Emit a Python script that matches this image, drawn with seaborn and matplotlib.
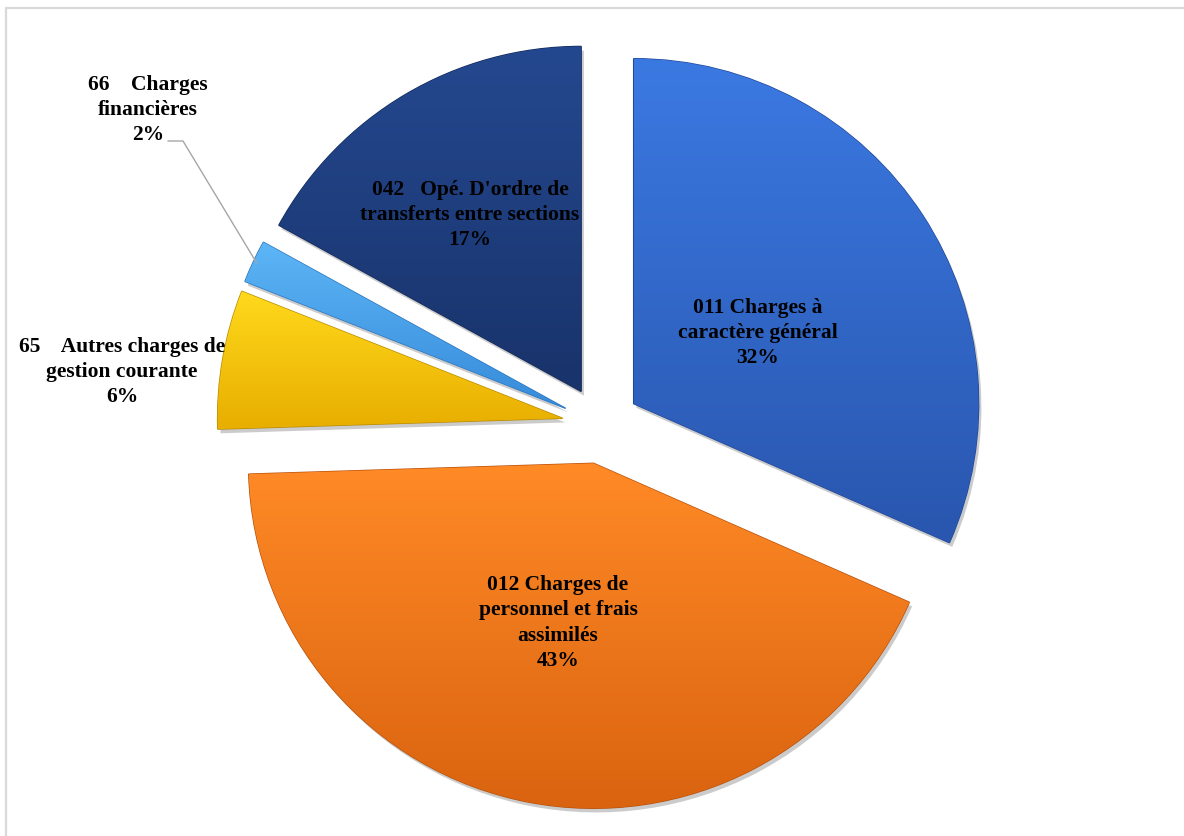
import numpy as np
import matplotlib
matplotlib.use("Agg")
import matplotlib.pyplot as plt
import matplotlib.patheffects as pe
from matplotlib.colors import to_rgb
from matplotlib.lines import Line2D
import seaborn as sns

# Data (share of charges)
codes = ["011", "012", "65", "66", "042"]
names = ["011 Charges à\ncaractère général",
         "012 Charges de\npersonnel et frais\nassimilés",
         "65    Autres charges de\ngestion courante",
         "66    Charges\nfinancières",
         "042   Opé. D'ordre de\ntransferts entre sections"]
shares = [31.6, 42.9, 6.5, 2.0, 17.0]
pct_labels = ["32%", "43%", "6%", "2%", "17%"]

# style
top_colors = ["#3B79E2", "#FF8A26", "#FFD91C", "#5DB6F6", "#24488F"]
bottom_colors = ["#2956AE", "#D9620F", "#E8AE00", "#378BDA", "#19336B"]
edge_colors = ["#23489A", "#B8520C", "#B88A00", "#2A74BD", "#142A58"]

sns.set_theme(style="white")
plt.rcParams["font.family"] = ["Liberation Serif", "DejaVu Serif"]

W, H = 1184, 836
R = 345.0           # pie radius in pixels
CX, CY = 601, 425   # pie centre in pixels (from top)

fig = plt.figure(figsize=(W / 100, H / 100), dpi=100)
ax = fig.add_axes([0, 0, 1, 1])

wedges, _ = ax.pie(shares, startangle=90, counterclock=False,
                   explode=[0.113] * len(shares), radius=1,
                   colors=top_colors,
                   wedgeprops=dict(linewidth=1.0))

ax.set_aspect("equal")
ax.axis("off")

def px(x, y):
    return (x - CX) / R, (CY - y) / R

# gradient fill + soft shadow on each wedge
for w, c1, c2, ec in zip(wedges, top_colors, bottom_colors, edge_colors):
    w.set_edgecolor(ec)
    w.set_path_effects([pe.SimplePatchShadow(offset=(2, -3), alpha=0.3,
                                             shadow_rgbFace="#555555"),
                        pe.Normal()])
    verts = w.get_path().vertices
    x0, x1 = verts[:, 0].min(), verts[:, 0].max()
    y0, y1 = verts[:, 1].min(), verts[:, 1].max()
    t = np.linspace(0, 1, 256)[:, None]
    grad = (1 - t) * np.array(to_rgb(c1)) + t * np.array(to_rgb(c2))
    img = np.repeat(grad[:, None, :], 2, axis=1)
    im = ax.imshow(img, extent=(x0, x1, y0, y1), origin="upper",
                   aspect="auto", zorder=w.get_zorder() + 0.1,
                   interpolation="bilinear")
    im.set_clip_path(w)

ax.set_xlim(-CX / R, (W - CX) / R)
ax.set_ylim(-(H - CY) / R, CY / R)

# labels (pixel anchors of the text blocks)
label_pos = [(758, 333), (558, 623), (122, 372), (148, 110), (470, 215)]
for name, pct, (lx, ly) in zip(names, pct_labels, label_pos):
    ax.text(*px(lx, ly), f"{name}\n{pct}", ha="center", va="center",
            fontsize=15.5, fontweight="bold", color="black",
            linespacing=1.35, zorder=10)

# leader line for the small slice
w66 = wedges[3]
tm = np.deg2rad(0.5 * (w66.theta1 + w66.theta2))
cx66, cy66 = w66.center
tip = (cx66 + 0.99 * np.cos(tm), cy66 + 0.99 * np.sin(tm))
elbow = px(183, 141)
end = px(168, 141)
ax.plot([tip[0], elbow[0], end[0]], [tip[1], elbow[1], end[1]],
        color="#A6A6A6", lw=1.0, zorder=9)

# chart frame (top and left edges visible)
fig.add_artist(Line2D([6 / W, 6 / W], [0, 1 - 8 / H], color="#D9D9D9", lw=1.6))
fig.add_artist(Line2D([6 / W, 1], [1 - 8 / H, 1 - 8 / H], color="#D9D9D9", lw=1.6))

fig.savefig("out.png", dpi=100)
